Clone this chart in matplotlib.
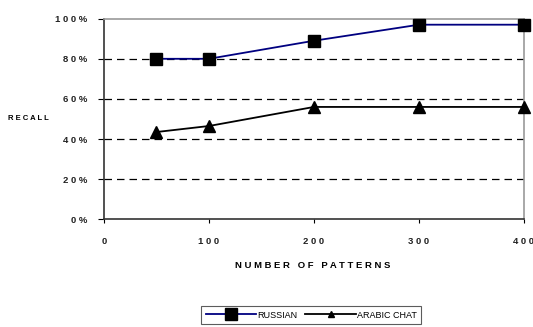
import matplotlib.pyplot as plt
from matplotlib.lines import Line2D

patterns = [50, 100, 200, 300, 400]
russian = [80, 80, 89, 97, 97]
arabic_chat = [43.5, 46.5, 56, 56, 56]

y_ticks = [0, 20, 40, 60, 80, 100]
y_labels = ["0 %", "2 0 %", "4 0 %", "6 0 %", "8 0 %", "1 0 0 %"]
x_ticks = [0, 100, 200, 300, 400]
x_labels = ["0", "1 0 0", "2 0 0", "3 0 0", "4 0 0"]

plt.rcParams["font.family"] = ["Liberation Sans", "DejaVu Sans"]

fig = plt.figure(figsize=(5.33, 3.27), dpi=100)
ax = fig.add_axes([0.1951, 0.3294, 0.788, 0.6135])

ax.plot(patterns, russian, color="#000080", lw=1.3, marker="s", markersize=8,
        mfc="black", mec="black", clip_on=False, zorder=3)
ax.plot(patterns, arabic_chat, color="black", lw=1.3, marker="^", markersize=9,
        mfc="black", mec="black", clip_on=False, zorder=3)

ax.set_xlim(0, 400)
ax.set_ylim(0, 100)
ax.set_yticks(y_ticks)
ax.set_yticklabels(y_labels, fontsize=6.8, fontweight="bold", color="#222222")
ax.set_xticks(x_ticks)
ax.set_xticklabels(x_labels, fontsize=6.8, fontweight="bold", color="#222222")
ax.tick_params(axis="y", length=4, width=0.8, pad=8)
ax.tick_params(axis="x", length=3, width=0.8, pad=10)

# dashed gridlines
for y in [20, 40, 60, 80]:
    ax.axhline(y, color="black", lw=0.9, ls=(0, (6, 4)), zorder=1)

ax.spines["left"].set_color("#333333")
ax.spines["bottom"].set_color("#333333")
ax.spines["left"].set_linewidth(1.2)
ax.spines["bottom"].set_linewidth(1.2)
ax.spines["top"].set_color("#999999")
ax.spines["right"].set_color("#999999")
ax.spines["top"].set_linewidth(1.2)
ax.spines["right"].set_linewidth(1.2)

fig.text(8 / 533, 1 - 118 / 327, "R E C A L L", fontsize=5.5, fontweight="bold",
         ha="left", va="center")
fig.text(313 / 533, 1 - 266 / 327, "N U M B E R   O F   P A T T E R N S", fontsize=6.8,
         fontweight="bold", ha="center", va="center")

handles = [
    Line2D([], [], color="#000080", lw=1.3, marker="s", markersize=9, mfc="black", mec="black"),
    Line2D([], [], color="black", lw=1.3, marker="^", markersize=4, mfc="black", mec="black"),
]
leg = fig.legend(handles, ["RUSSIAN", "ARABIC CHAT"], loc="upper left",
                 bbox_to_anchor=(201 / 533, 1 - 306 / 327), ncol=2, fontsize=6.5,
                 handlelength=5.6, handletextpad=0.1, columnspacing=0.9,
                 frameon=True, fancybox=False, borderaxespad=0, borderpad=0.5)
leg.get_frame().set_edgecolor("#333333")
leg.get_frame().set_linewidth(0.8)

fig.savefig("out.png", dpi=100)
